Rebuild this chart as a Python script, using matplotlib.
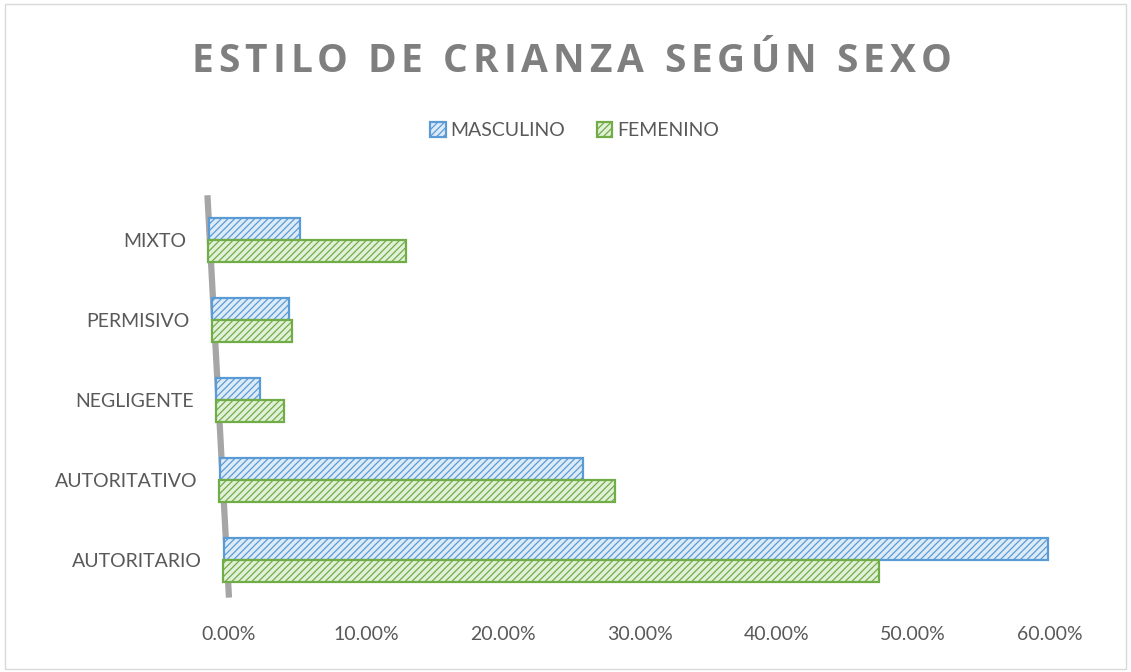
import numpy as np
import matplotlib
matplotlib.use('Agg')
import matplotlib.pyplot as plt
import matplotlib.transforms as mtransforms
from matplotlib.patches import Rectangle

# Data (percent)
categories = ['AUTORITARIO', 'AUTORITATIVO', 'NEGLIGENTE', 'PERMISIVO', 'MIXTO']
masculino = [60.2, 26.5, 3.2, 5.6, 6.7]
femenino = [47.9, 28.9, 5.0, 5.9, 14.5]
x_ticks = [0, 10, 20, 30, 40, 50, 60]
title = 'ESTILO DE CRIANZA SEGÚN SEXO'

plt.rcParams['font.family'] = ['Lato', 'DejaVu Sans']
plt.rcParams['hatch.linewidth'] = 0.9

text_gray = '#595959'
blue_edge = '#5B9BD5'
blue_face = '#DDEBF7'
green_edge = '#70AD47'
green_face = '#E2F0D9'

fig = plt.figure(figsize=(11.31, 6.72), dpi=100)
ax = fig.add_axes([0.1768, 0.1071, 0.787, 0.6101])

# fake depth: rows further back shift slightly to the left
skew = 0.28
y = np.arange(len(categories))
starts = -0.37 - skew * y
h = 0.28

ax.barh(y + 0.14, masculino, height=h, left=starts, color=blue_face,
        edgecolor=blue_edge, hatch='/////', linewidth=1.6, label='MASCULINO', zorder=3)
ax.barh(y - 0.14, femenino, height=h, left=starts - 0.05, color=green_face,
        edgecolor=green_edge, hatch='/////', linewidth=1.6, label='FEMENINO', zorder=3)

# tilted back wall
ax.plot([0.0, -0.37 - skew * 4.3], [-0.47, 4.56], color='#A6A6A6', linewidth=4.5,
        solid_capstyle='butt', zorder=2)

ax.set_xlim(-2.12, 62.92)
ax.set_ylim(-0.5, 4.625)
ax.set_xticks(x_ticks)
ax.set_xticklabels([f'{v:.2f}%' for v in x_ticks])
ax.set_yticks(y)
ax.set_yticklabels(categories)
ax.tick_params(axis='both', length=0, labelsize=14, labelcolor=text_gray)
ax.tick_params(axis='x', pad=19)
ax.tick_params(axis='y', pad=-1)
for s in ax.spines.values():
    s.set_visible(False)

# category labels follow the perspective of the rows
px_per_unit = fig.bbox.width * 0.787 / (62.92 + 2.12)
for i, lab in enumerate(ax.get_yticklabels()):
    dx = -skew * i * px_per_unit / fig.dpi
    lab.set_transform(lab.get_transform() +
                      mtransforms.ScaledTranslation(dx, 0, fig.dpi_scale_trans))

# letter-spaced title, drawn char by char
renderer = fig.canvas.get_renderer()
tkw = dict(fontsize=28, fontweight='bold', color='#7F7F7F',
           family=['Open Sans', 'DejaVu Sans'], va='center', ha='left')
W = fig.bbox.width
def prefix_width(s):
    if not s:
        return 0.0
    t = fig.text(0, 0, s.replace(' ', '\u00a0'), **tkw)
    w = t.get_window_extent(renderer).width
    t.remove()
    return w
spacing = 5.0
total = prefix_width(title) + spacing * (len(title) - 1)
x0 = 571 - total / 2
for i, ch in enumerate(title):
    if ch == ' ':
        continue
    xpix = x0 + prefix_width(title[:i]) + spacing * i
    fig.text(xpix / W, 0.908, ch, **tkw)

fig.legend(loc='center', bbox_to_anchor=(0.508, 0.806), ncol=2, frameon=False,
           fontsize=14, labelcolor=text_gray, handlelength=0.8, handleheight=0.8,
           handletextpad=0.25, columnspacing=1.6)

# chart border
fig.add_artist(Rectangle((0.004, 0.004), 0.992, 0.99, transform=fig.transFigure,
                         fill=False, edgecolor='#D9D9D9', linewidth=1))

fig.savefig('out.png', dpi=100)
